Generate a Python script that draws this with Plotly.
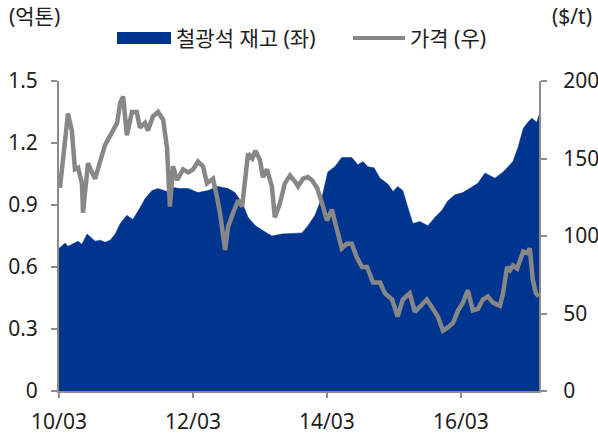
import plotly.graph_objects as go

# Iron ore port inventory (left axis, 100 million tonnes)
stock_dates = [
    "2010-03-01", "2010-04-03", "2010-04-19", "2010-06-13", "2010-07-04", "2010-08-01",
    "2010-09-14", "2010-10-11", "2010-11-08", "2010-12-05", "2011-01-02", "2011-01-29",
    "2011-03-06", "2011-04-08", "2011-05-16", "2011-06-13", "2011-07-21", "2011-08-23",
    "2011-10-11", "2011-11-13", "2011-12-21", "2012-02-04", "2012-03-28", "2012-05-22",
    "2012-07-15", "2012-09-08", "2012-10-16", "2012-11-24", "2012-12-27", "2013-02-04",
    "2013-03-28", "2013-05-05", "2013-06-29", "2013-09-09", "2013-10-16", "2013-11-18",
    "2013-12-26", "2014-02-03", "2014-03-06", "2014-04-13", "2014-05-21", "2014-07-15",
    "2014-08-17", "2014-09-14", "2014-10-11", "2014-11-13", "2014-12-16", "2015-01-29",
    "2015-02-25", "2015-03-22", "2015-04-19", "2015-05-16", "2015-06-13", "2015-07-21",
    "2015-09-03", "2015-10-11", "2015-11-19", "2015-12-21", "2016-01-29", "2016-03-12",
    "2016-04-19", "2016-06-02", "2016-07-10", "2016-09-03", "2016-10-17", "2016-12-10",
    "2017-01-07", "2017-02-04", "2017-03-01", "2017-03-23", "2017-04-19", "2017-05-01",
]
stock_values = [
    0.69, 0.716, 0.70, 0.725, 0.71, 0.76,
    0.725, 0.73, 0.72, 0.73, 0.76, 0.81,
    0.85, 0.83, 0.885, 0.93, 0.97, 0.98,
    0.965, 0.985, 0.98, 0.98, 0.96, 0.97,
    0.99, 0.98, 0.96, 0.91, 0.84, 0.80,
    0.77, 0.75, 0.76, 0.765, 0.765, 0.80,
    0.85, 0.94, 1.06, 1.085, 1.13, 1.13,
    1.095, 1.11, 1.085, 1.08, 1.03, 1.00,
    0.965, 0.99, 0.97, 0.89, 0.81, 0.82,
    0.80, 0.84, 0.875, 0.92, 0.95, 0.96,
    0.98, 1.005, 1.055, 1.03, 1.06, 1.11,
    1.18, 1.27, 1.30, 1.32, 1.30, 1.335,
]

# Iron ore price (right axis, $/t)
price_dates = [
    "2010-03-06", "2010-03-22", "2010-04-19", "2010-05-10", "2010-05-27", "2010-06-13",
    "2010-07-04", "2010-07-10", "2010-08-06", "2010-08-28", "2010-09-14", "2010-10-11",
    "2010-11-08", "2010-12-16", "2011-01-12", "2011-01-29", "2011-02-14", "2011-03-06",
    "2011-04-03", "2011-04-29", "2011-05-16", "2011-06-13", "2011-06-29", "2011-07-26",
    "2011-08-23", "2011-09-20", "2011-10-11", "2011-10-27", "2011-11-13", "2011-12-05",
    "2012-01-07", "2012-02-04", "2012-03-01", "2012-03-28", "2012-04-24", "2012-05-16",
    "2012-06-18", "2012-07-10", "2012-07-26", "2012-08-23", "2012-09-08", "2012-10-06",
    "2012-11-02", "2012-11-24", "2012-12-10", "2012-12-26", "2013-01-18", "2013-02-04",
    "2013-03-01", "2013-03-17", "2013-04-08", "2013-05-05", "2013-05-21", "2013-06-18",
    "2013-07-15", "2013-08-12", "2013-09-09", "2013-09-25", "2013-10-22", "2013-11-18",
    "2013-12-10", "2014-01-07", "2014-02-03", "2014-03-01", "2014-03-28", "2014-04-24",
    "2014-05-21", "2014-06-18", "2014-07-15", "2014-08-12", "2014-09-09", "2014-10-06",
    "2014-11-08", "2014-12-16", "2015-01-12", "2015-02-20", "2015-03-22", "2015-04-19",
    "2015-05-27", "2015-06-24", "2015-07-21", "2015-08-28", "2015-09-25", "2015-10-27",
    "2015-11-24", "2015-12-21", "2016-01-18", "2016-02-15", "2016-03-12", "2016-04-08",
    "2016-05-05", "2016-06-02", "2016-06-29", "2016-07-26", "2016-08-23", "2016-09-30",
    "2016-10-17", "2016-11-08", "2016-11-24", "2016-12-10", "2017-01-02", "2017-01-18",
    "2017-02-04", "2017-02-26", "2017-03-12", "2017-03-28", "2017-04-14", "2017-04-30",
]
price_values = [
    131, 149, 179, 168, 143, 144,
    134, 115, 147, 141, 137, 148,
    159, 167, 173, 186, 190, 165,
    180, 180, 170, 173, 168, 177,
    180, 175, 157, 119, 145, 136,
    143, 141, 143, 148, 145, 134,
    137, 125, 115, 91, 106, 115,
    123, 119, 138, 153, 150, 155,
    149, 138, 143, 132, 112, 121,
    134, 139, 135, 132, 137, 138,
    136, 131, 121, 110, 117, 104,
    92, 95, 95, 86, 80, 80,
    70, 70, 63, 59, 48, 59,
    63, 51, 54, 59, 54, 48,
    39, 41, 44, 52, 57, 65,
    52, 53, 59, 61, 57, 55,
    63, 80, 78, 81, 79, 85,
    90, 89, 92, 72, 63, 61,
]

x_tick_dates = ["2010-03-01", "2012-03-01", "2014-03-01", "2016-03-01"]
x_tick_text = ["10/03", "12/03", "14/03", "16/03"]
left_ticks = [0, 0.3, 0.6, 0.9, 1.2, 1.5]
left_tick_text = ["0", "0.3", "0.6", "0.9", "1.2", "1.5"]
right_ticks = [0, 50, 100, 150, 200]

stock_name = "철광석 재고 (좌)"
price_name = "가격 (우)"

BLUE = "#00358F"
GREY = "#878787"
AXIS = "#8C8C8C"
TEXT = "#1E1E1E"
FONT = "Noto Sans, Noto Sans CJK KR, sans-serif"

fig = go.Figure()
fig.add_trace(go.Scatter(
    x=stock_dates, y=stock_values, name=stock_name,
    mode="lines", fill="tozeroy", fillcolor=BLUE,
    line=dict(color=BLUE, width=0.5), yaxis="y",
))
fig.add_trace(go.Scatter(
    x=price_dates, y=price_values, name=price_name,
    mode="lines", line=dict(color=GREY, width=4.5), yaxis="y2",
))

W, H = 598, 435
ML, MR, MT, MB = 59, 59, 81, 44
PW, PH = W - ML - MR, H - MT - MB


def px(xp):
    return (xp - ML) / PW


def py(yp):
    return (H - MB - yp) / PH


# hand-placed legend row
leg_y = 38
shapes = [
    dict(type="rect", xref="paper", yref="paper",
         x0=px(117), x1=px(171), y0=py(leg_y + 6), y1=py(leg_y - 6),
         fillcolor=BLUE, line=dict(width=0)),
    dict(type="line", xref="paper", yref="paper",
         x0=px(353), x1=px(405), y0=py(leg_y), y1=py(leg_y),
         line=dict(color=GREY, width=4)),
]
annotations = [
    dict(text=stock_name, xref="paper", yref="paper", x=px(174), y=py(leg_y),
         xanchor="left", yanchor="middle", showarrow=False,
         font=dict(size=21, color=TEXT, family=FONT)),
    dict(text=price_name, xref="paper", yref="paper", x=px(408), y=py(leg_y),
         xanchor="left", yanchor="middle", showarrow=False,
         font=dict(size=21, color=TEXT, family=FONT)),
    dict(text="(억톤)", xref="paper", yref="paper", x=px(7), y=py(16),
         xanchor="left", yanchor="middle", showarrow=False,
         font=dict(size=21, color=TEXT, family=FONT)),
    dict(text="($/t)", xref="paper", yref="paper", x=px(594), y=py(16),
         xanchor="right", yanchor="middle", showarrow=False,
         font=dict(size=21, color=TEXT, family=FONT)),
]

fig.update_layout(
    width=W, height=H,
    margin=dict(l=ML, r=MR, t=MT, b=MB, autoexpand=False),
    paper_bgcolor="white", plot_bgcolor="white",
    showlegend=False,
    font=dict(family=FONT, size=21, color=TEXT),
    shapes=shapes, annotations=annotations,
    xaxis=dict(
        type="date", range=["2010-03-01", "2017-05-01"],
        tickvals=x_tick_dates, ticktext=x_tick_text,
        showgrid=False, zeroline=False, automargin=False,
        showline=True, linecolor=AXIS, linewidth=2,
        ticks="outside", ticklen=5, tickwidth=2, tickcolor=AXIS,
        ticklabelstandoff=6,
    ),
    yaxis=dict(
        range=[0, 1.5], tickvals=left_ticks, ticktext=left_tick_text,
        showgrid=False, zeroline=False, automargin=False,
        showline=True, linecolor=AXIS, linewidth=2,
        ticks="outside", ticklen=6, tickwidth=2, tickcolor=AXIS,
        ticklabelstandoff=9,
    ),
    yaxis2=dict(
        range=[0, 200], tickvals=right_ticks,
        overlaying="y", side="right",
        showgrid=False, zeroline=False, automargin=False,
        showline=True, linecolor=AXIS, linewidth=2,
        ticks="outside", ticklen=6, tickwidth=2, tickcolor=AXIS,
        ticklabelstandoff=12,
    ),
)

fig.write_html("out.html")
